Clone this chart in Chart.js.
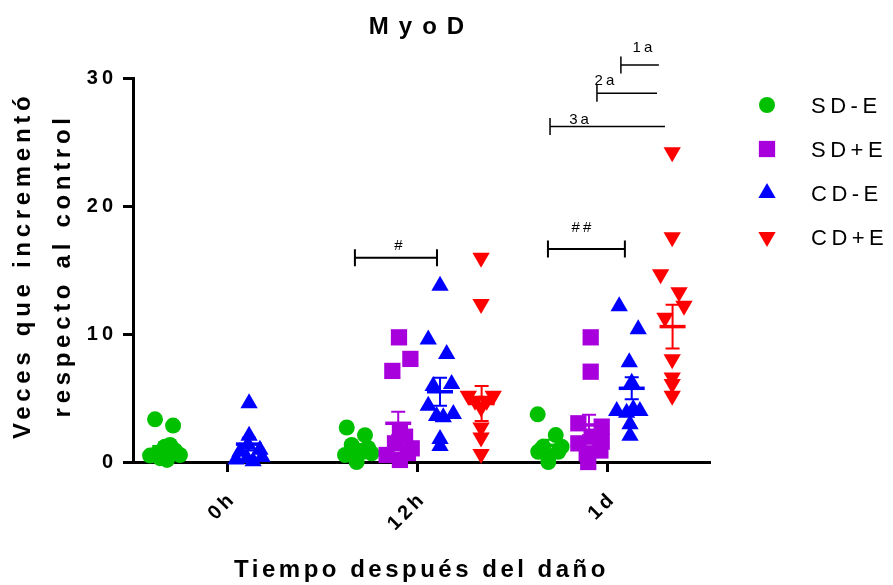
<!DOCTYPE html>
<html lang="es">
<head>
<meta charset="utf-8">
<title>MyoD</title>
<script src="https://cdn.jsdelivr.net/npm/chart.js@4.4.1/dist/chart.umd.min.js"></script>
<style>
  html, body { margin: 0; padding: 0; background: #fff; }
  #wrap { position: relative; width: 893px; height: 585px; }
</style>
</head>
<body>
<div id="wrap"><canvas id="chart"></canvas></div>
<script>
// MyoD — veces que incrementó respecto al control (media ± EEM, puntos individuales)

const TIMES = ['0h', '12h', '1d'];
const GROUPS = ['SD-E', 'SD+E', 'CD-E', 'CD+E'];

// individual values: [time position incl. jitter, fold change]
const SD_MINUS_E = [
  [-0.384, 3.34], [-0.289, 2.85], [-0.332, 1.2], [-0.374, 0.68], [-0.253, 0.55],
  [-0.321, 0.16], [-0.305, 1.33], [-0.41, 0.5], [-0.279, 0.9], [-0.358, 0.3],
  [0.625, 2.7], [0.721, 2.1], [0.651, 1.33], [0.737, 1.1], [0.668, 0.42],
  [0.616, 0.55], [0.677, 0.0], [0.756, 0.68], [0.711, 0.8],
  [1.63, 3.73], [1.725, 2.11], [1.633, 0.8], [1.686, 0.42], [1.738, 0.8],
  [1.686, 0.0], [1.756, 1.2], [1.659, 1.2],
];
const SD_PLUS_E = [
  [0.9, 9.76], [0.96, 8.07], [0.865, 7.13], [0.905, 2.37], [0.932, 1.98],
  [0.879, 1.46], [0.967, 1.07], [0.835, 0.55], [0.905, 0.16], [0.947, 0.7],
  [1.909, 9.76], [1.909, 7.07], [1.844, 3.03], [1.967, 2.77], [1.914, 1.98],
  [1.844, 1.46], [1.967, 1.59], [1.888, 0.68], [1.896, 0.0], [1.96, 0.9],
];
const CD_MINUS_E = [
  [0.111, 4.6], [0.111, 2.05], [0.063, 0.8], [0.168, 0.95], [0.1, 0.3],
  [0.132, 0.05], [0.105, 1.35], [0.042, 0.2], [0.179, 0.4],
  [1.116, 13.8], [1.054, 9.6], [1.151, 8.45], [1.177, 6.1], [1.08, 5.95],
  [1.054, 4.4], [1.098, 3.6], [1.186, 3.75], [1.133, 3.5], [1.116, 1.8], [1.116, 1.25],
  [2.059, 12.2], [2.159, 10.4], [2.112, 7.8], [2.125, 6.2], [2.046, 4.0],
  [2.168, 4.0], [2.098, 3.85], [2.133, 4.15], [2.116, 2.95], [2.116, 2.05],
];
const CD_PLUS_E = [
  [1.332, 16.0], [1.332, 12.36], [1.265, 5.18], [1.396, 5.18], [1.3, 4.8],
  [1.362, 4.8], [1.332, 4.27], [1.332, 2.7], [1.332, 1.92], [1.332, 0.62],
  [2.338, 24.24], [2.338, 17.6], [2.277, 14.7], [2.374, 13.28], [2.4, 12.23],
  [2.3, 11.3], [2.338, 8.05], [2.338, 6.62], [2.338, 6.1], [2.338, 5.18],
];

// mean ± SEM per group (0h, 12h, 1d); null = group not measured
const ERR_X = [[-0.33, 0.684, 1.684], [null, 0.896, 1.9], [0.11, 1.116, 2.125], [null, 1.335, 2.34]];
const MEANS = [[1.2, 1.1, 1.3], [null, 3.03, 2.9], [1.4, 5.5, 5.77], [null, 4.58, 10.6]];
const SEMS  = [[0.35, 0.3, 0.45], [null, 0.91, 0.8], [0.5, 1.1, 0.86], [null, 1.37, 1.72]];

// significance brackets
const BRACKET_FROM = [0.668, 1.684, 1.695, 1.942, 2.068];
const BRACKET_TO   = [1.1, 2.089, 2.3, 2.258, 2.268];
const BRACKET_Y    = [16.0, 16.68, 26.26, 28.87, 31.09];
const BRACKET_TEXT = ['#', '##', '3a', '2a', '1a'];
const BRACKET_TEXT_X = [0.905, 1.868, 1.856, 1.989, 2.189];
const BRACKET_TEXT_Y = [16.6, 18.0, 26.47, 29.52, 32.1];
const BRACKET_CAPS = ['both', 'both', 'left', 'left', 'left'];

const X_MIN = -0.5;
const X_MAX = 2.537;

const COLORS = ['#00C000', '#A800DC', '#0000FF', '#FF0000'];
const STYLES = [
  { pointStyle: 'circle', radius: 8, rotation: 0 },
  { pointStyle: 'rect', radius: 11.5, rotation: 0 },
  { pointStyle: 'triangle', radius: 10, rotation: 0 },
  { pointStyle: 'triangle', radius: 10, rotation: 180 },
];
const FONT = '"Liberation Sans", Arial, sans-serif';

Chart.defaults.font.family = FONT;
Chart.defaults.color = '#000';

// canvas letter spacing (and optional shift) around one draw method of a box
function spaceOut(box, method, px, dx = 0, dy = 0) {
  const fn = box[method];
  box[method] = function (...args) {
    const ctx = this.ctx;
    ctx.save();
    ctx.letterSpacing = px + 'px';
    ctx.translate(dx, dy);
    fn.apply(this, args);
    ctx.restore();
  };
}

const spacing = {
  id: 'spacing',
  afterUpdate(chart) {
    if (chart._spaced) return;
    chart._spaced = true;
    spaceOut(chart.titleBlock, 'draw', 10);
    spaceOut(chart.scales.x, 'drawLabels', 3.5, 5, 0);
    spaceOut(chart.scales.x, 'drawTitle', 3.5);
    spaceOut(chart.scales.y, 'drawLabels', 4);
    spaceOut(chart.scales.y, 'drawTitle', 4.7, 0, -5);
  },
};

const errorBars = {
  id: 'errorBars',
  afterDatasetsDraw(chart) {
    const { ctx, scales: { x, y } } = chart;
    ctx.save();
    GROUPS.forEach((g, i) => {
      ctx.strokeStyle = COLORS[i];
      MEANS[i].forEach((m, t) => {
        if (m === null) return;
        const px = x.getPixelForValue(ERR_X[i][t]);
        const top = y.getPixelForValue(m + SEMS[i][t]);
        const bot = y.getPixelForValue(m - SEMS[i][t]);
        const mid = y.getPixelForValue(m);
        ctx.lineWidth = 2;
        ctx.beginPath();
        ctx.moveTo(px, top); ctx.lineTo(px, bot);
        ctx.moveTo(px - 7, top); ctx.lineTo(px + 7, top);
        ctx.moveTo(px - 7, bot); ctx.lineTo(px + 7, bot);
        ctx.stroke();
        ctx.lineWidth = 3.5;
        ctx.beginPath();
        ctx.moveTo(px - 13, mid); ctx.lineTo(px + 13, mid);
        ctx.stroke();
      });
    });
    ctx.restore();
  },
};

const brackets = {
  id: 'brackets',
  afterDraw(chart) {
    const { ctx, scales: { x, y } } = chart;
    ctx.save();
    ctx.strokeStyle = '#000';
    ctx.fillStyle = '#000';
    BRACKET_TEXT.forEach((label, i) => {
      const x1 = x.getPixelForValue(BRACKET_FROM[i]);
      const x2 = x.getPixelForValue(BRACKET_TO[i]);
      const py = y.getPixelForValue(BRACKET_Y[i]);
      ctx.lineWidth = BRACKET_CAPS[i] === 'both' ? 2 : 1.5;
      ctx.beginPath();
      ctx.moveTo(x1, py); ctx.lineTo(x2, py);
      ctx.moveTo(x1, py - 8.5); ctx.lineTo(x1, py + 8.5);
      if (BRACKET_CAPS[i] === 'both') {
        ctx.moveTo(x2, py - 8.5); ctx.lineTo(x2, py + 8.5);
      }
      ctx.stroke();
      ctx.font = '15px ' + FONT;
      ctx.letterSpacing = '3px';
      ctx.textAlign = 'center';
      ctx.textBaseline = 'alphabetic';
      ctx.fillText(label, x.getPixelForValue(BRACKET_TEXT_X[i]), y.getPixelForValue(BRACKET_TEXT_Y[i]));
    });
    ctx.restore();
  },
};

const sideLegend = {
  id: 'sideLegend',
  afterDraw(chart) {
    const { ctx } = chart;
    ctx.save();
    GROUPS.forEach((g, i) => {
      const cy = 105 + i * 44;
      ctx.fillStyle = COLORS[i];
      Chart.helpers.drawPoint(ctx, { ...STYLES[i], borderWidth: 0 }, 767, cy);
      ctx.fillStyle = '#000';
      ctx.font = '22px ' + FONT;
      ctx.letterSpacing = '4.5px';
      ctx.textAlign = 'left';
      ctx.textBaseline = 'middle';
      ctx.fillText(g, 811, cy + 2);
    });
    ctx.restore();
  },
};

const SERIES = [SD_MINUS_E, SD_PLUS_E, CD_MINUS_E, CD_PLUS_E];

new Chart(document.getElementById('chart'), {
  type: 'scatter',
  data: {
    datasets: SERIES.map((pts, i) => ({
      label: GROUPS[i],
      data: pts.map(([px, v]) => ({ x: px, y: v })),
      pointStyle: STYLES[i].pointStyle,
      pointRadius: STYLES[i].radius,
      pointHoverRadius: STYLES[i].radius,
      pointRotation: STYLES[i].rotation,
      backgroundColor: COLORS[i],
      borderColor: COLORS[i],
      borderWidth: 0,
      clip: false,
      order: SERIES.length - i,
    })),
  },
  options: {
    responsive: true,
    maintainAspectRatio: false,
    animation: false,
    events: [],
    layout: { padding: { left: 0, right: 183, top: 0, bottom: 0 } },
    plugins: {
      legend: { display: false },
      tooltip: { enabled: false },
      title: {
        display: true,
        text: 'MyoD',
        fullSize: false,
        color: '#000',
        font: { size: 24, weight: 'bold' },
        padding: { top: 13, bottom: 37 },
      },
    },
    scales: {
      x: {
        type: 'linear',
        min: X_MIN,
        max: X_MAX,
        afterBuildTicks: s => { s.ticks = TIMES.map((_, i) => ({ value: i })); },
        afterFit: s => { s.height = 123; },
        ticks: {
          callback: v => TIMES[v],
          autoSkip: false,
          minRotation: 45,
          maxRotation: 45,
          color: '#000',
          font: { size: 20, weight: 'bold' },
          padding: 15,
        },
        grid: { display: true, drawOnChartArea: false, drawTicks: true, tickLength: 10, tickWidth: 3, tickColor: '#000' },
        border: { display: true, color: '#000', width: 3 },
        title: {
          display: true,
          text: 'Tiempo después del daño',
          color: '#000',
          font: { size: 24, weight: 'bold' },
          padding: { top: 0, bottom: 0 },
        },
      },
      y: {
        min: 0,
        max: 30,
        afterFit: s => { s.width = 133; },
        ticks: { stepSize: 10, color: '#000', font: { size: 20, weight: 'bold' }, padding: 6 },
        grid: { display: true, drawOnChartArea: false, drawTicks: true, tickLength: 10, tickWidth: 3, tickColor: '#000' },
        border: { display: true, color: '#000', width: 3 },
        title: {
          display: true,
          text: ['Veces que incrementó', 'respecto al control'],
          color: '#000',
          font: { size: 24, weight: 'bold', lineHeight: 1.65 },
          padding: { top: 4, bottom: 0 },
        },
      },
    },
  },
  plugins: [spacing, errorBars, brackets, sideLegend],
});
</script>
</body>
</html>
